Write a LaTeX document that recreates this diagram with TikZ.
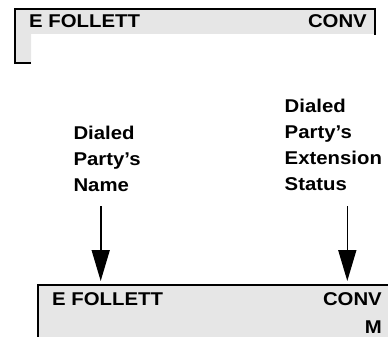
\documentclass[tikz,border=0pt]{standalone}
\usepackage{fontspec}
\newfontfamily\lcdfont{Liberation Sans}[FakeStretch=1.1]
\usepackage{tikz}
\usetikzlibrary{positioning,arrows.meta,calc}
\definecolor{lcdgray}{RGB}{230, 230, 230}
\tikzset{
    lcd text/.style={font=\lcdfont\bfseries\fontsize{18.5}{18.5}\selectfont, inner sep=0pt},
    callout/.style={font=\lcdfont\bfseries\fontsize{18.5}{26}\selectfont, align=left, inner sep=0pt, anchor=south west},
    lcd border/.style={line width=2pt, black},
    pointer/.style={-{Triangle[length=31pt, width=18pt]}, line width=1.6pt}
}

\begin{document}
\begin{tikzpicture}[x=1pt, y=-1pt]
\useasboundingbox (0,0) rectangle (388,337);

% Upper display
\fill[lcdgray] (15,9) -- (374.5,9) -- (374.5,34) -- (31,34) -- (31,63) -- (15,63) -- cycle;
\draw[lcd border] (31,63) -- (15,63) -- (15,9) -- (374.5,9) -- (374.5,35);
\node[lcd text, anchor=base west] (topname) at (29,28) {E FOLLETT};
\node[lcd text, anchor=base east] (topstatus) at (367,28) {CONV};

% Lower display
\draw[lcd border, fill=lcdgray] (37.5,285) rectangle (400,350);
\node[lcd text, anchor=base west] (botname) at (52,305) {E FOLLETT};
\node[lcd text, anchor=base east] (botstatus) at (382,305) {CONV};
\node[lcd text, anchor=base east] (botmode) at (382,333) {M};

% Callouts
\node[callout] (namelabel) at (73.3,192.3) {Dialed\\Party’s\\Name};
\node[callout] (statuslabel) at (284.5,191) {Dialed\\Party’s\\Extension\\Status};

% Arrows
\coordinate (nametip) at (100.7,281);
\coordinate (statustip) at (347.3,281);
\draw[pointer] ([yshift=-14pt]namelabel.south -| nametip) -- (nametip);
\draw[pointer] ([yshift=-15pt]statuslabel.south -| statustip) -- (statustip);
\end{tikzpicture}
\end{document}
